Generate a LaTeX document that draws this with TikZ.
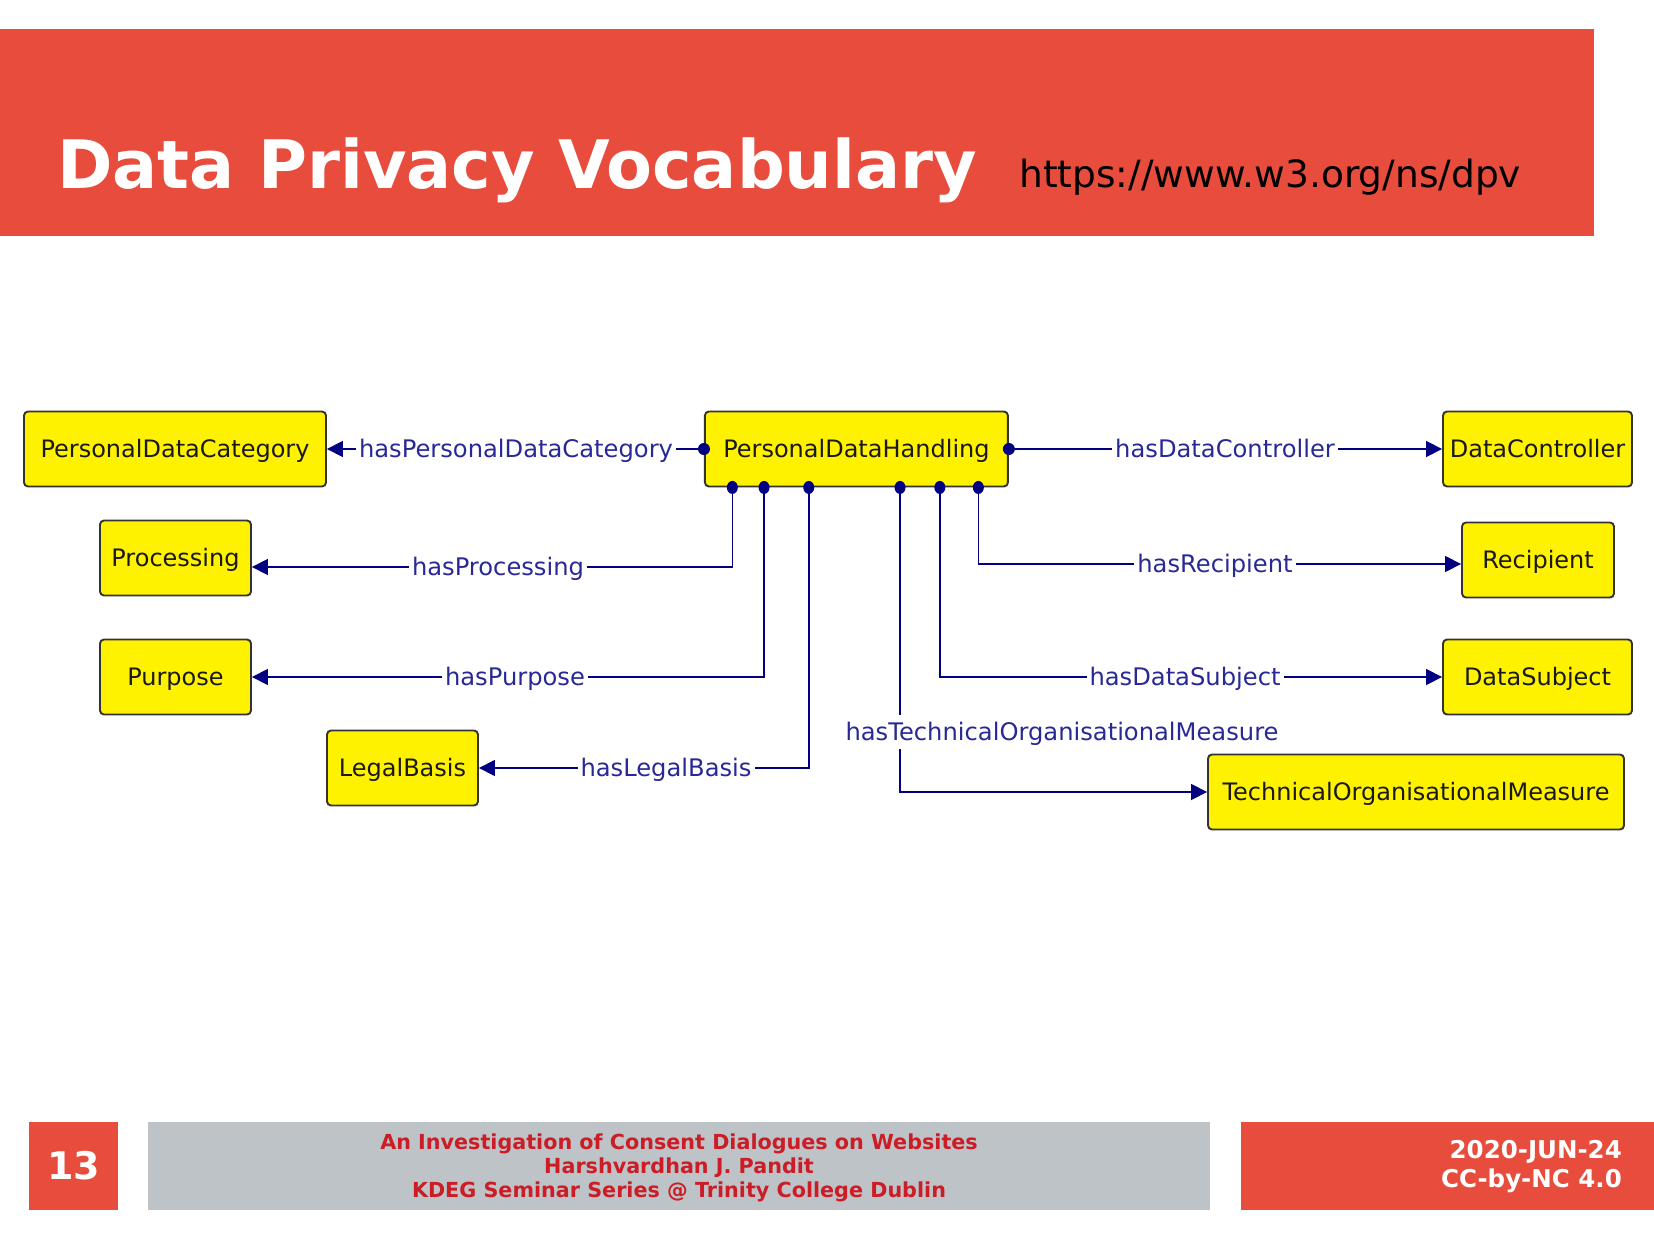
\documentclass[tikz,border=0pt]{standalone}
\usepackage{fontspec}
\setmainfont{DejaVu Sans}
\usetikzlibrary{arrows.meta}
\definecolor{hdrred}{RGB}{231,76,60}
\definecolor{footgray}{RGB}{189,195,199}
\definecolor{foottext}{RGB}{204,28,38}
\definecolor{linec}{RGB}{0,0,128}
\definecolor{labc}{RGB}{40,40,150}
\definecolor{boxborder}{RGB}{51,51,51}
\definecolor{boxtext}{RGB}{25,25,25}
\begin{document}
\begin{tikzpicture}[x=1pt,y=-1pt,
  cls/.style={draw=boxborder, line width=1.9pt, fill=yellow, rounded corners=4pt,
    text=boxtext, font=\fontsize{24pt}{29pt}\selectfont, inner sep=0pt,
    text height=17.5pt, text depth=0pt, minimum height=75pt},
  lab/.style={fill=white, text=labc, font=\fontsize{24.2pt}{29pt}\selectfont,
    inner xsep=3pt, inner ysep=1pt, text height=17.5pt, text depth=0pt},
  conn/.style={draw=linec, line width=1.7pt, -{Triangle[length=16pt,width=16pt]}},
  dotc/.style={fill=linec},
  foot/.style={inner sep=0pt, font=\bfseries\fontsize{20.7pt}{24pt}\selectfont, text=foottext, anchor=base},
  footr/.style={inner sep=0pt, font=\bfseries\fontsize{24.5pt}{29pt}\selectfont, text=white, anchor=base east}
]
\useasboundingbox (0,0) rectangle (1654,1241);

% header
\fill[hdrred] (0,29.3) rectangle (1594,236);
\node[anchor=base west, text=white, inner sep=0pt,
  font=\bfseries\fontsize{66.85pt}{70pt}\selectfont] (title) at (57,189) {Data Privacy Vocabulary};
\node[anchor=base west, text=black, inner sep=0pt,
  font=\fontsize{37.55pt}{42pt}\selectfont] (url) at (1019,188) {https://www.w3.org/ns/dpv};

% nodes
\node[cls, minimum width=302pt] (pdc) at (175,449) {PersonalDataCategory};
\node[cls, minimum width=303pt] (pdh) at (856.4,449) {PersonalDataHandling};
\node[cls, minimum width=189pt] (dc) at (1537.5,449) {DataController};
\node[cls, minimum width=151pt] (proc) at (175.5,558) {Processing};
\node[cls, minimum width=152pt] (rec) at (1538,560) {Recipient};
\node[cls, minimum width=151pt] (purp) at (175.5,677) {Purpose};
\node[cls, minimum width=189pt] (ds) at (1537.5,677) {DataSubject};
\node[cls, minimum width=151pt] (lb) at (402.5,768) {LegalBasis};
\node[cls, minimum width=416pt] (tom) at (1416,792) {TechnicalOrganisationalMeasure};

% connectors
\draw[conn] (pdh.west) -- (pdc.east);
\draw[conn] (pdh.east) -- (dc.west);
\draw[conn] ([xshift=28.4pt]pdh.south west) |- ([yshift=-9pt]proc.east);
\draw[conn] ([xshift=60.1pt]pdh.south west) |- (purp.east);
\draw[conn] ([xshift=104.8pt]pdh.south west) |- (lb.east);
\draw[conn] ([xshift=196.1pt]pdh.south west) |- (tom.west);
\draw[conn] ([xshift=235.9pt]pdh.south west) |- (ds.west);
\draw[conn] ([xshift=274.4pt]pdh.south west) |- ([yshift=-4pt]rec.west);

% dots
\fill[dotc] (pdh.west) circle (6pt);
\fill[dotc] (pdh.east) circle (6pt);
\foreach \s in {28.4,60.1,104.8,196.1,235.9,274.4}
  \fill[dotc] ([xshift=\s pt]pdh.south west) ellipse (5.5pt and 6.5pt);

% labels
\node[lab] (l1) at (516,449) {hasPersonalDataCategory};
\node[lab] (l2) at (1225,449) {hasDataController};
\node[lab] (l3) at (498,567) {hasProcessing};
\node[lab] (l4) at (515,677) {hasPurpose};
\node[lab] (l5) at (666,768) {hasLegalBasis};
\node[lab] (l6) at (1215,564) {hasRecipient};
\node[lab] (l7) at (1185,677) {hasDataSubject};
\node[lab, inner ysep=8pt] (l8) at (1062,732) {hasTechnicalOrganisationalMeasure};

% footer
\fill[hdrred] (29.3,1121.7) rectangle (117.7,1210);
\node[text=white, inner sep=0pt, text height=27.7pt, text depth=0pt,
  font=\bfseries\fontsize{38pt}{42pt}\selectfont] (pg) at (73.5,1166) {13};
\fill[footgray] (147.7,1121.7) rectangle (1210,1210);
\node[foot] (f1) at (679,1149) {An Investigation of Consent Dialogues on Websites};
\node[foot] (f2) at (679,1173) {Harshvardhan J. Pandit};
\node[foot] (f3) at (679,1197) {KDEG Seminar Series @ Trinity College Dublin};
\fill[hdrred] (1240.5,1121.7) rectangle (1654,1210);
\node[footr] (d1) at (1622,1158) {2020-JUN-24};
\node[footr] (d2) at (1622,1187) {CC-by-NC 4.0};
\end{tikzpicture}
\end{document}
